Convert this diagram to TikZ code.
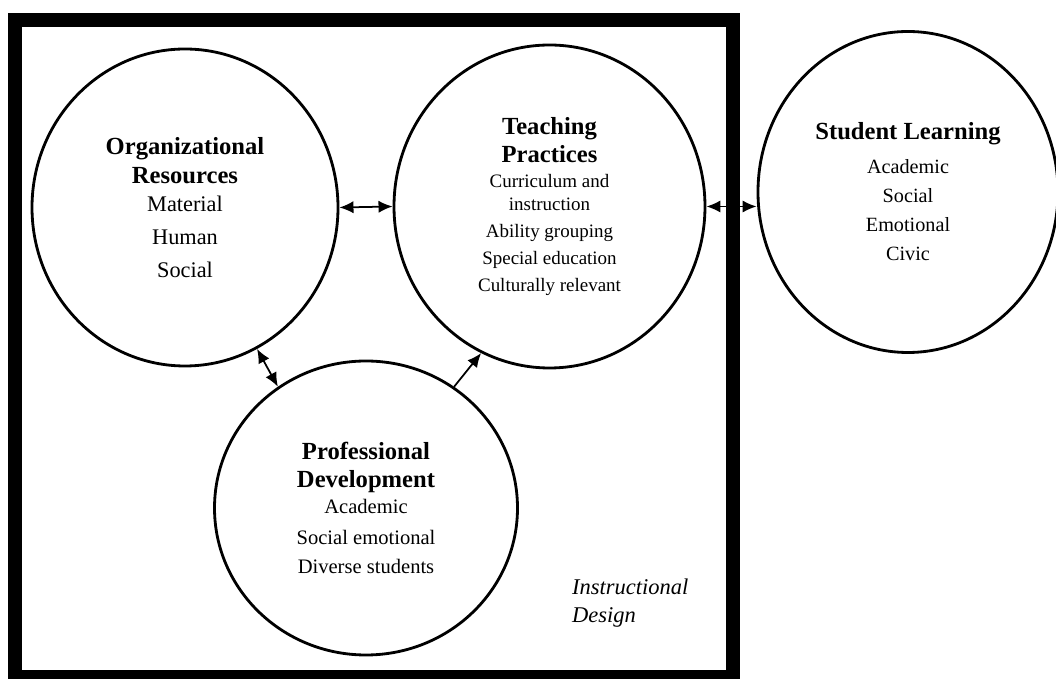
\documentclass[tikz,border=0pt]{standalone}
\usepackage{fontspec}
\setmainfont{Liberation Serif}
\usetikzlibrary{shapes.geometric, arrows.meta}

\newcommand{\headtext}[1]{{\bfseries\fontsize{14}{16}\selectfont #1}}

\begin{document}
\begin{tikzpicture}[> = {Latex[length = 8pt, width = 7pt]},
	disc/.style = {draw, ellipse, line width = 1.6pt, inner sep = 0pt, align = center},
	link/.style = {line width = 1pt}]

	% Frame
	
	\useasboundingbox (0, 0) rectangle (21.12, -13.58);
	\draw [line width = 0.28 cm] (0.30, -0.40) rectangle (14.66, -13.54);
	
	% Circles
	
	\node [disc, minimum width = 6.12 cm, minimum height = 6.34 cm, font = \fontsize{12.7}{18.8}\selectfont] (org) at (3.70, -4.15)
		{\headtext{Organizational}\\[-2.3pt] \headtext{Resources}\\[-2.9pt] Material\\ Human\\ Social};
	
	\node [disc, minimum width = 6.22 cm, minimum height = 6.46 cm, font = \fontsize{10.8}{15.4}\selectfont] (teach) at (10.99, -4.13)
		{\headtext{Teaching}\\[0.5pt] \headtext{Practices}\\[-1.2pt] Curriculum and\\[-2.3pt] instruction\\ Ability grouping\\ Special education\\ Culturally relevant};
	
	\node [disc, minimum width = 6.00 cm, minimum height = 6.42 cm, font = \fontsize{11.5}{16.5}\selectfont] (stud) at (18.16, -3.84)
		{\headtext{Student Learning}\\[2.8pt] Academic\\ Social\\ Emotional\\ Civic};
	
	\node [disc, minimum width = 6.06 cm, minimum height = 5.88 cm, font = \fontsize{11.7}{17}\selectfont] (prof) at (7.32, -10.16)
		{\headtext{Professional}\\[-1.1pt] \headtext{Development}\\[-2.2pt] Academic\\[0.6pt] Social emotional\\[-0.5pt] Diverse students};
	
	% Label
	
	\node [anchor = west, align = left, font = \itshape\fontsize{12.8}{15.9}\selectfont] (design) at (11.32, -12.06) {Instructional\\ Design};
	
	% Arrows
	
	\draw [link, <->] (org.east) -- (teach.west);
	\draw [link, <->] (teach.east) -- (teach.east -| stud.west);
	\draw [link, <->] (org.-63) -- (prof.126);
	\draw [link, ->] (prof.54) -- (teach.-115);

\end{tikzpicture}
\end{document}
